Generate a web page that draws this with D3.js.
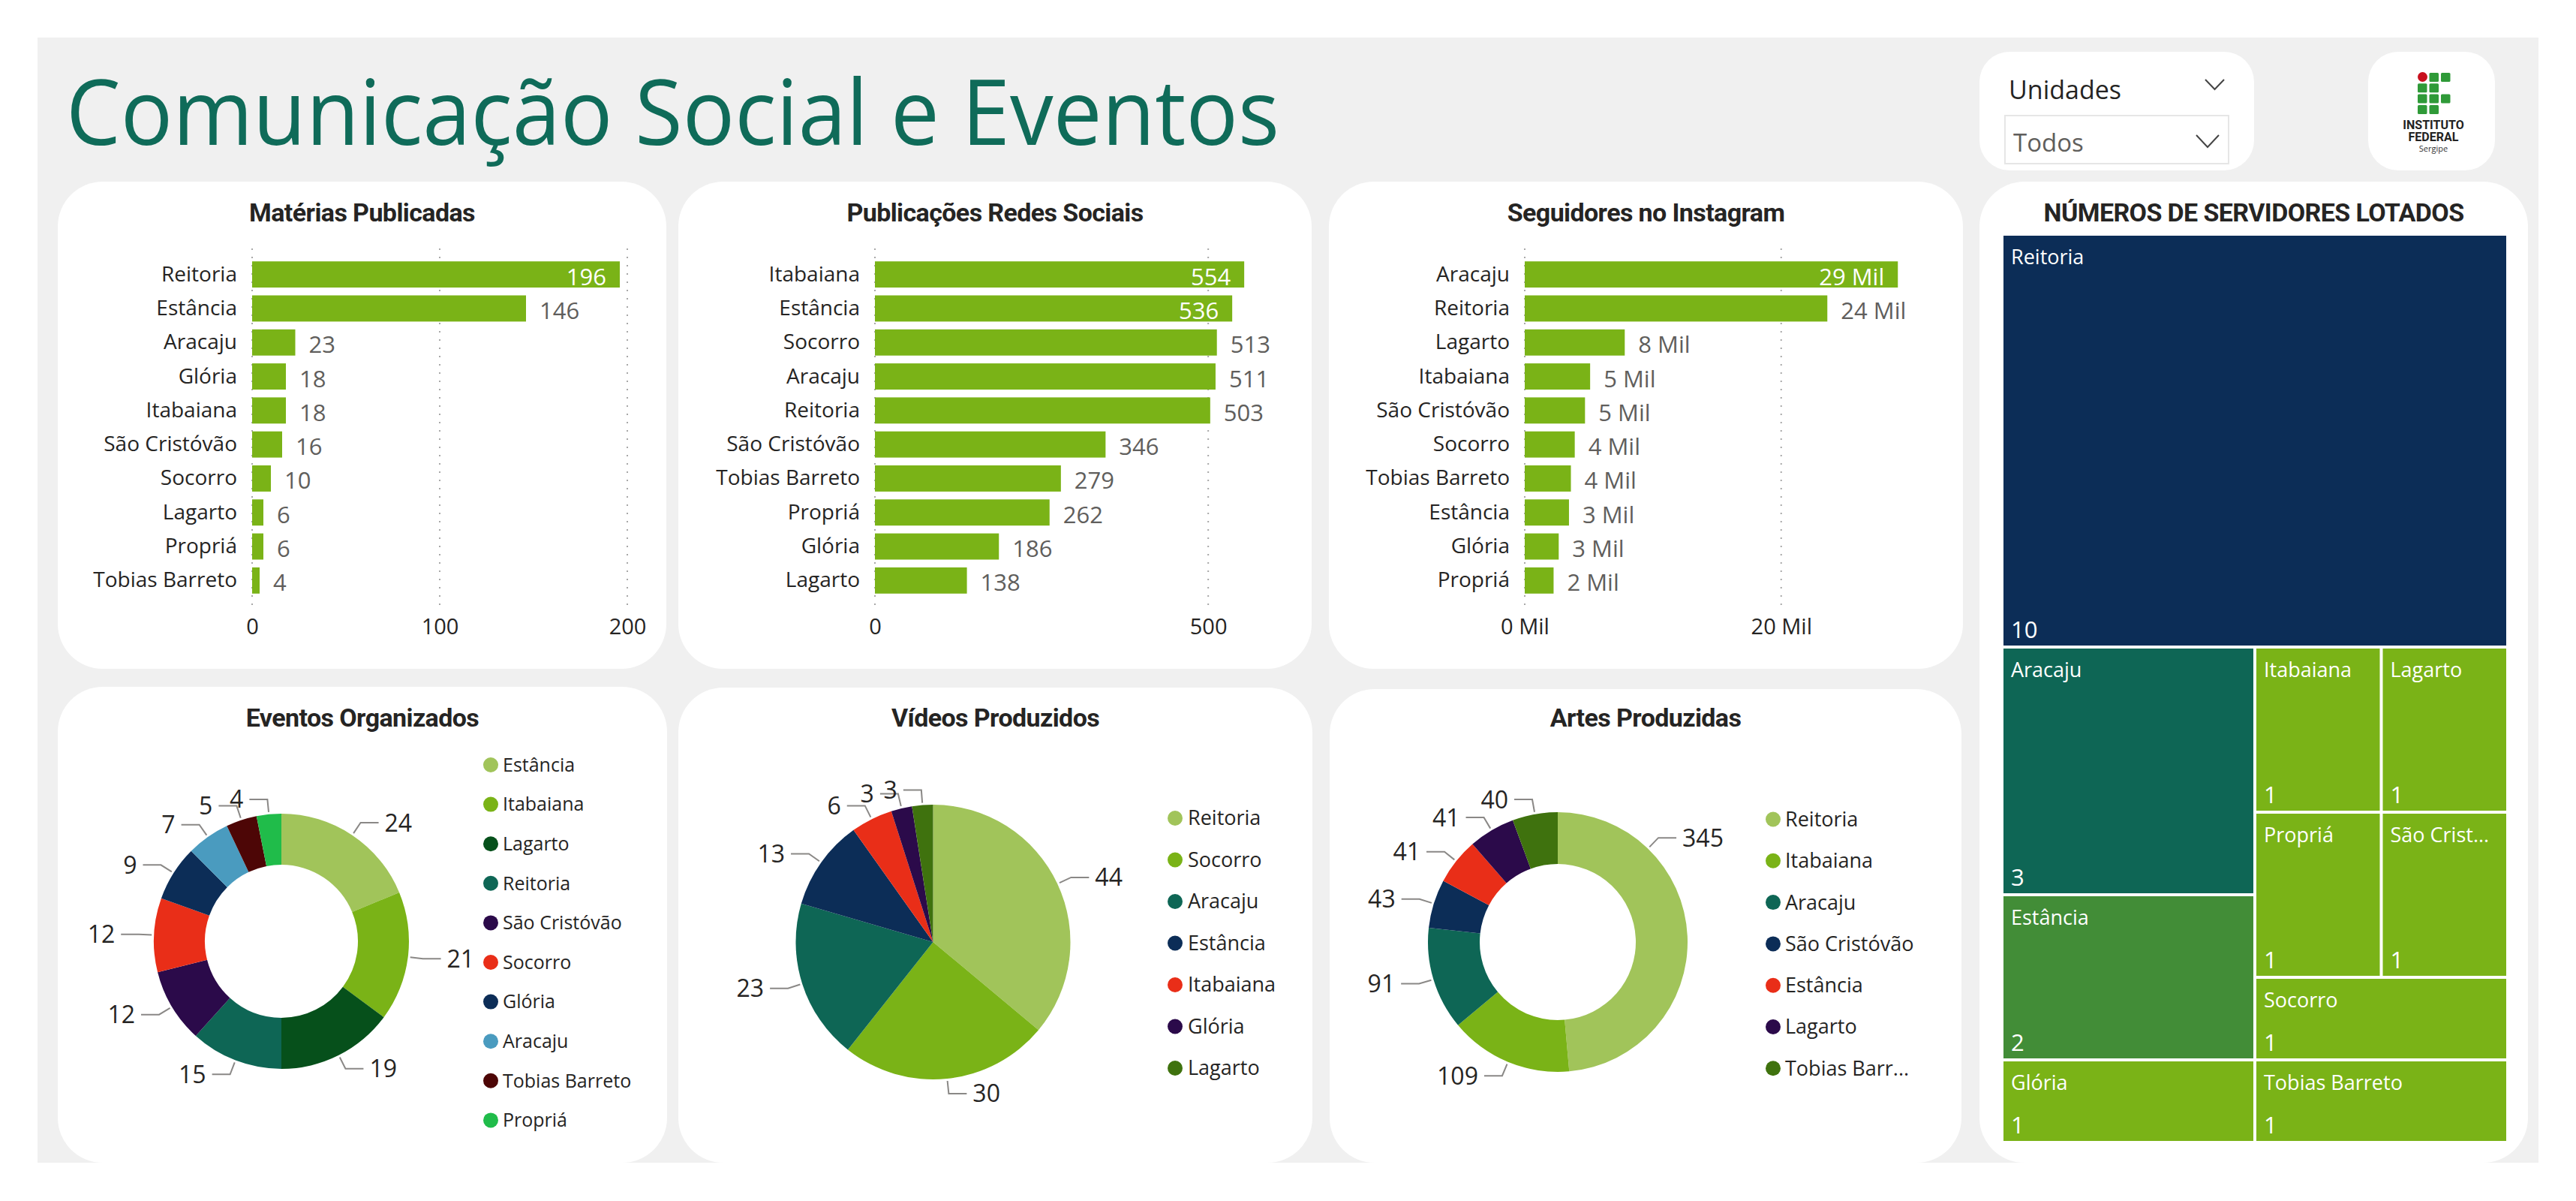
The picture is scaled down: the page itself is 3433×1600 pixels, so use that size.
<!DOCTYPE html>
<html>
<head>
<meta charset="utf-8">
<script src="https://cdn.jsdelivr.net/npm/d3@7"></script>
<style>
body { margin: 0; background: #fff; }
</style>
</head>
<body>
<script>
// ---- data ----
const materiasCat = ['Reitoria', 'Estância', 'Aracaju', 'Glória', 'Itabaiana', 'São Cristóvão', 'Socorro', 'Lagarto', 'Propriá', 'Tobias Barreto'];
const materiasVal = [196, 146, 23, 18, 18, 16, 10, 6, 6, 4];
const materiasTicks = [0, 100, 200];

const redesCat = ['Itabaiana', 'Estância', 'Socorro', 'Aracaju', 'Reitoria', 'São Cristóvão', 'Tobias Barreto', 'Propriá', 'Glória', 'Lagarto'];
const redesVal = [554, 536, 513, 511, 503, 346, 279, 262, 186, 138];
const redesTicks = [0, 500];

const seguidoresCat = ['Aracaju', 'Reitoria', 'Lagarto', 'Itabaiana', 'São Cristóvão', 'Socorro', 'Tobias Barreto', 'Estância', 'Glória', 'Propriá'];
const seguidoresVal = [29100, 23600, 7800, 5100, 4700, 3900, 3600, 3450, 2650, 2250];
const seguidoresTicks = [0, 20000];

const eventosCat = ['Estância', 'Itabaiana', 'Lagarto', 'Reitoria', 'São Cristóvão', 'Socorro', 'Glória', 'Aracaju', 'Tobias Barreto', 'Propriá'];
const eventosVal = [24, 21, 19, 15, 12, 12, 9, 7, 5, 4];

const videosCat = ['Reitoria', 'Socorro', 'Aracaju', 'Estância', 'Itabaiana', 'Glória', 'Lagarto'];
const videosVal = [44, 30, 23, 13, 6, 3, 3];

const artesCat = ['Reitoria', 'Itabaiana', 'Aracaju', 'São Cristóvão', 'Estância', 'Lagarto', 'Tobias Barreto'];
const artesVal = [345, 109, 91, 43, 41, 41, 40];

const servidoresCat = ['Reitoria', 'Aracaju', 'Estância', 'Glória', 'Itabaiana', 'Lagarto', 'Propriá', 'São Cristóvão', 'Socorro', 'Tobias Barreto'];
const servidoresVal = [10, 3, 2, 1, 1, 1, 1, 1, 1, 1];

// ---- styles ----
const FONT = "'Open Sans', 'Noto Sans', sans-serif";
const TFONT = "Roboto, 'Noto Sans', sans-serif";
const GREEN = '#7ab317';
const INK = '#252423';
const GREY = '#605e5c';

const eventosColors = ['#a1c45a', '#7ab317', '#06501b', '#0e6655', '#2b0a4a', '#e92e18', '#0c2d57', '#4a9bbf', '#4d0606', '#20bc4a'];
const pieColors = ['#a1c45a', '#7ab317', '#0e6655', '#0c2d57', '#e92e18', '#2b0a4a', '#3f720e'];
const treeColors = ['#0c2d57', '#0e6655', '#428d37', GREEN, GREEN, GREEN, GREEN, GREEN, GREEN, GREEN];

const W = 3433, H = 1600;
const svg = d3.select('body').append('svg').attr('width', W).attr('height', H);
svg.append('rect').attr('width', W).attr('height', H).attr('fill', '#fff');
svg.append('rect').attr('x', 50).attr('y', 50).attr('width', 3333).attr('height', 1499).attr('fill', '#f0f0f0');

// main title
svg.append('text').attr('x', 88).attr('y', 193)
  .attr('font-family', FONT).attr('font-size', 121).attr('fill', '#0f6b59')
  .attr('textLength', 1617).attr('lengthAdjust', 'spacingAndGlyphs')
  .text('Comunicação Social e Eventos');

// panels
const panels = [
  {x: 77, y: 242, w: 811, h: 649, t: 'Matérias Publicadas'},
  {x: 904, y: 242, w: 844, h: 649, t: 'Publicações Redes Sociais'},
  {x: 1771, y: 242, w: 845, h: 649, t: 'Seguidores no Instagram'},
  {x: 77, y: 915, w: 812, h: 634, t: 'Eventos Organizados'},
  {x: 904, y: 916, w: 845, h: 633, t: 'Vídeos Produzidos'},
  {x: 1772, y: 918, w: 842, h: 631, t: 'Artes Produzidas'},
  {x: 2638, y: 242, w: 731, h: 1307, t: 'NÚMEROS DE SERVIDORES LOTADOS'}
];
svg.selectAll('rect.panel').data(panels).enter().append('rect')
  .attr('class', 'panel')
  .attr('x', d => d.x).attr('y', d => d.y).attr('width', d => d.w).attr('height', d => d.h)
  .attr('rx', 60).attr('fill', '#fff');
svg.selectAll('text.ptitle').data(panels).enter().append('text')
  .attr('class', 'ptitle')
  .attr('x', d => d.x + d.w / 2).attr('y', d => d.y < 500 ? 295 : 968)
  .attr('text-anchor', 'middle')
  .attr('font-family', TFONT).attr('font-weight', 700).attr('font-size', 34).attr('fill', INK)
  .attr('letter-spacing', -0.6)
  .text(d => d.t);

// slicer card
svg.append('rect').attr('x', 2638).attr('y', 69).attr('width', 366).attr('height', 158).attr('rx', 40).attr('fill', '#fff');
svg.append('text').attr('x', 2677).attr('y', 132).attr('font-family', FONT).attr('font-size', 34).attr('fill', INK).text('Unidades');
svg.append('polyline').attr('points', '2939,106 2951.5,119 2964,106').attr('fill', 'none').attr('stroke', '#444').attr('stroke-width', 2);
svg.append('rect').attr('x', 2672).attr('y', 154).attr('width', 298).attr('height', 64).attr('fill', '#fff').attr('stroke', '#e6e6e6').attr('stroke-width', 2);
svg.append('text').attr('x', 2683).attr('y', 202).attr('font-family', FONT).attr('font-size', 33).attr('fill', GREY).text('Todos');
svg.append('polyline').attr('points', '2927,180 2942,196 2957,180').attr('fill', 'none').attr('stroke', '#444').attr('stroke-width', 2);

// logo card
svg.append('rect').attr('x', 3156).attr('y', 69).attr('width', 169).attr('height', 158).attr('rx', 40).attr('fill', '#fff');
const logoCells = [[1, 0], [2, 0], [0, 1], [1, 1], [0, 2], [1, 2], [2, 2], [0, 3], [1, 3]];
svg.selectAll('rect.logo').data(logoCells).enter().append('rect')
  .attr('x', d => 3222 + d[0] * 15.5).attr('y', d => 97 + d[1] * 14.3)
  .attr('width', 12.5).attr('height', 12).attr('rx', 1.5).attr('fill', '#2f9a38');
svg.append('ellipse').attr('cx', 3228.5).attr('cy', 102.5).attr('rx', 6.5).attr('ry', 6.5).attr('fill', '#c8101e');
svg.append('text').attr('x', 3243).attr('y', 172).attr('text-anchor', 'middle').attr('font-family', TFONT).attr('font-weight', 700).attr('font-size', 16).attr('fill', '#222').text('INSTITUTO');
svg.append('text').attr('x', 3243).attr('y', 188).attr('text-anchor', 'middle').attr('font-family', TFONT).attr('font-weight', 700).attr('font-size', 16).attr('fill', '#222').text('FEDERAL');
svg.append('text').attr('x', 3243).attr('y', 202).attr('text-anchor', 'middle').attr('font-family', FONT).attr('font-size', 11).attr('fill', '#333').text('Sergipe');

// ---- bar charts ----
function barChart(cats, vals, ticks, fmt, x0, x1, max) {
  const g = svg.append('g');
  const x = d3.scaleLinear().domain([0, max]).range([x0, x1]);
  const y = d3.scaleBand().domain(cats).range([343, 796]).paddingInner(0.23).paddingOuter(0.115);

  g.selectAll('line.grid').data(ticks).enter().append('line')
    .attr('x1', d => x(d)).attr('x2', d => x(d)).attr('y1', 331).attr('y2', 809)
    .attr('stroke', '#a8a8a8').attr('stroke-width', 2).attr('stroke-dasharray', '2,9');

  g.selectAll('rect.bar').data(vals).enter().append('rect')
    .attr('x', x0).attr('y', (d, i) => y(cats[i]))
    .attr('width', d => x(d) - x0).attr('height', y.bandwidth())
    .attr('fill', GREEN);

  const ya = g.append('g').attr('transform', `translate(${x0},0)`)
    .call(d3.axisLeft(y).tickSize(0).tickPadding(20));
  ya.select('.domain').remove();
  ya.attr('font-family', FONT).attr('font-size', 28).attr('color', INK);

  const xa = g.append('g').attr('transform', 'translate(0,818)')
    .call(d3.axisBottom(x).tickValues(ticks).tickFormat(fmt).tickSize(0).tickPadding(6));
  xa.select('.domain').remove();
  xa.attr('font-family', FONT).attr('font-size', 29).attr('color', INK);

  g.selectAll('text.val').data(vals).enter().append('text')
    .attr('x', d => x(d) + 18).attr('y', (d, i) => y(cats[i]) + y.bandwidth() / 2)
    .attr('dy', '0.45em')
    .attr('font-family', FONT).attr('font-size', 31).attr('fill', GREY)
    .text(fmt)
    .each(function(d) {
      const w = this.getComputedTextLength();
      if (x(d) + 18 + w > x1) {
        d3.select(this).attr('x', x(d) - 18).attr('text-anchor', 'end').attr('fill', '#fff');
      }
    });
}

barChart(materiasCat, materiasVal, materiasTicks, d => d, 336, 851, 206);
barChart(redesCat, redesVal, redesTicks, d => d, 1166, 1699, 600);
barChart(seguidoresCat, seguidoresVal, seguidoresTicks, d => Math.round(d / 1000) + ' Mil', 2032, 2560, 30900);

// ---- pies / donuts ----
function fitText(node, maxW) {
  const t = d3.select(node);
  let s = t.text();
  if (node.getComputedTextLength() <= maxW) return;
  while (s.length > 1) {
    s = s.slice(0, -1);
    t.text(s.trimEnd() + '...');
    if (node.getComputedTextLength() <= maxW) break;
  }
}

function pieChart(cats, vals, colors, cx, cy, r, ir, lg, maxAngle) {
  const g = svg.append('g').attr('transform', `translate(${cx},${cy})`);
  const arcs = d3.pie().sort(null).value(d => d)(vals);
  const arc = d3.arc().innerRadius(ir).outerRadius(r);

  g.selectAll('path.slice').data(arcs).enter().append('path')
    .attr('d', arc).attr('fill', (d, i) => colors[i]);

  const pts = arcs.map(d => {
    let a = (d.startAngle + d.endAngle) / 2;
    if (maxAngle && a < Math.PI) a = Math.min(a, maxAngle);
    const s = Math.sin(a), c = -Math.cos(a);
    const right = s >= 0;
    const p2 = [(r + 20) * s, (r + 20) * c];
    return {v: d.data, right,
      p: [[(r + 3) * s, (r + 3) * c], p2, [p2[0] + (right ? 24 : -24), p2[1]]]};
  });

  g.selectAll('polyline.lead').data(pts).enter().append('polyline')
    .attr('points', d => d.p.map(q => q.join(',')).join(' '))
    .attr('fill', 'none').attr('stroke', '#8a8886').attr('stroke-width', 2);

  g.selectAll('text.lbl').data(pts).enter().append('text')
    .attr('x', d => d.p[2][0] + (d.right ? 8 : -8)).attr('y', d => d.p[2][1])
    .attr('dy', '0.36em').attr('text-anchor', d => d.right ? 'start' : 'end')
    .attr('font-family', FONT).attr('font-size', 32).attr('fill', INK)
    .text(d => d.v);

  const lgG = svg.append('g');
  lgG.selectAll('circle').data(cats).enter().append('circle')
    .attr('cx', lg.cx).attr('cy', (d, i) => lg.y0 + i * lg.step).attr('r', 10)
    .attr('fill', (d, i) => colors[i]);
  lgG.selectAll('text').data(cats).enter().append('text')
    .attr('x', lg.tx).attr('y', (d, i) => lg.y0 + i * lg.step).attr('dy', '0.35em')
    .attr('font-family', FONT).attr('font-size', lg.fs).attr('fill', INK)
    .text(d => d)
    .each(function() { fitText(this, lg.maxW); });
}

pieChart(eventosCat, eventosVal, eventosColors, 375, 1254, 170, 102,
  {cx: 654, tx: 670, y0: 1019, step: 52.6, fs: 25, maxW: 210});
pieChart(videosCat, videosVal, pieColors, 1243.5, 1255, 183, 0,
  {cx: 1566, tx: 1583, y0: 1090, step: 55.5, fs: 27, maxW: 176});
pieChart(artesCat, artesVal, pieColors, 2076, 1255, 173, 104,
  {cx: 2363, tx: 2379, y0: 1091.5, step: 55.3, fs: 27, maxW: 176}, 44 * Math.PI / 180);

// ---- treemap ----
const root = d3.hierarchy({children: servidoresCat.map((c, i) => ({name: c, value: servidoresVal[i], idx: i}))})
  .sum(d => d.value || 0);
d3.treemap().tile(d3.treemapSquarify).size([670, 1206]).paddingInner(4)(root);

const tg = svg.append('g').attr('transform', 'translate(2670,314)');
const cell = tg.selectAll('g.cell').data(root.leaves()).enter().append('g')
  .attr('transform', d => `translate(${d.x0},${d.y0})`);
cell.append('rect')
  .attr('width', d => d.x1 - d.x0).attr('height', d => d.y1 - d.y0)
  .attr('fill', d => treeColors[d.data.idx]);
cell.append('text')
  .attr('x', 10).attr('y', 38)
  .attr('font-family', FONT).attr('font-size', 27).attr('fill', '#fff')
  .text(d => d.data.name)
  .each(function(d) { fitText(this, d.x1 - d.x0 - 18); });
cell.append('text')
  .attr('x', 10).attr('y', d => d.y1 - d.y0 - 10)
  .attr('font-family', FONT).attr('font-size', 31).attr('fill', '#fff')
  .text(d => d.data.value);
</script>
</body>
</html>
